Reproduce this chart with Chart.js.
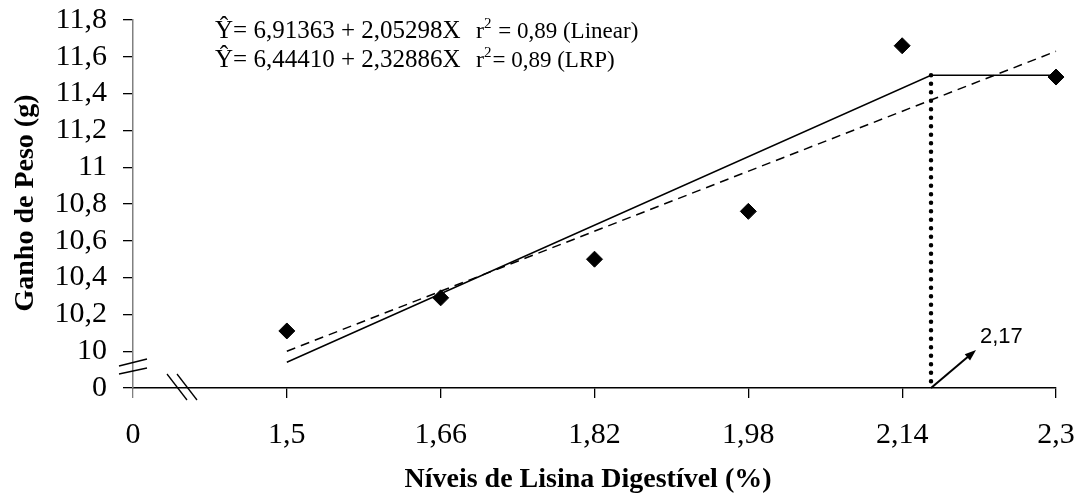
<!DOCTYPE html>
<html>
<head>
<meta charset="utf-8">
<script src="https://cdn.jsdelivr.net/npm/chart.js@4.4.1/dist/chart.umd.min.js"></script>
<style>
  html, body { margin: 0; padding: 0; background: #fff; }
  #wrap { width: 1078px; height: 493px; }
</style>
</head>
<body>
<div id="wrap"><canvas id="grafico-lisina"></canvas></div>
<script>
// observed points
const niveis = [1.5, 1.66, 1.82, 1.98, 2.14, 2.3];
const ganhoPeso = [10.11, 10.29, 10.5, 10.76, 11.66, 11.49];

// fitted lines (ends)
const linearX = [1.5, 2.3];
const linearY = [10.0, 11.63];
const lrpX = [1.5, 2.17, 2.3];
const lrpY = [9.94, 11.5, 11.5];
const platoX = 2.17;
const platoY = 11.5;

// axes: the "0" ticks sit one step past the break
const xTicks = [1.34, 1.5, 1.66, 1.82, 1.98, 2.14, 2.3];
const xTickLabels = ["0", "1,5", "1,66", "1,82", "1,98", "2,14", "2,3"];
const yTicks = [9.8, 10, 10.2, 10.4, 10.6, 10.8, 11, 11.2, 11.4, 11.6, 11.8];
const yTickLabels = ["0", "10", "10,2", "10,4", "10,6", "10,8", "11", "11,2", "11,4", "11,6", "11,8"];

const serif = "'Liberation Serif', 'Times New Roman', serif";

function pares(xs, ys) {
  return xs.map(function (x, i) { return { x: x, y: ys[i] }; });
}

function linha(ctx, x1, y1, x2, y2) {
  ctx.beginPath();
  ctx.moveTo(x1, y1);
  ctx.lineTo(x2, y2);
  ctx.stroke();
}

const extras = {
  id: "extras",
  afterDraw(chart) {
    const ctx = chart.ctx;
    const xs = chart.scales.x;
    const area = chart.chartArea;
    ctx.save();
    ctx.fillStyle = "#000";
    ctx.strokeStyle = "#000";

    // axis titles
    ctx.font = "bold 28px " + serif;
    ctx.textAlign = "center";
    ctx.textBaseline = "alphabetic";
    ctx.fillText("Níveis de Lisina Digestível (%)", 588, 487);
    ctx.save();
    ctx.translate(33, 203);
    ctx.rotate(-Math.PI / 2);
    ctx.fillText("Ganho de Peso (g)", 0, 0);
    ctx.restore();

    // equations
    ctx.textAlign = "left";
    const eqs = [
      ["Ŷ= 6,91363 + 2,05298X", " = 0,89 (Linear)", 38],
      ["Ŷ= 6,44410 + 2,32886X", "= 0,89 (LRP)", 67],
    ];
    eqs.forEach(function (e) {
      ctx.font = "25px " + serif;
      ctx.fillText(e[0], 215, e[2]);
      ctx.font = "24px " + serif;
      ctx.fillText("r", 476, e[2]);
      const wr = ctx.measureText("r").width;
      ctx.font = "15px " + serif;
      ctx.fillText("2", 476 + wr, e[2] - 10);
      const w2 = ctx.measureText("2").width;
      ctx.font = "23px " + serif;
      ctx.fillText(e[1], 476 + wr + w2 + 1, e[2]);
    });

    // axis breaks
    ctx.lineWidth = 1.3;
    linha(ctx, area.left - 14, 366, area.left + 14, 359);
    linha(ctx, area.left - 14, 374, area.left + 14, 368);
    linha(ctx, 167, 374, 187, 400);
    linha(ctx, 177, 374, 197, 400);

    // arrow to the break point label
    const ax = xs.getPixelForValue(platoX);
    const ay = area.bottom;
    const bx = ax + 45, by = ay - 38;
    ctx.lineWidth = 2;
    linha(ctx, ax, ay, bx - 6, by + 5);
    const ang = Math.atan2(by - ay, bx - ax);
    ctx.beginPath();
    ctx.moveTo(bx, by);
    ctx.lineTo(bx - 12 * Math.cos(ang - 0.35), by - 12 * Math.sin(ang - 0.35));
    ctx.lineTo(bx - 12 * Math.cos(ang + 0.35), by - 12 * Math.sin(ang + 0.35));
    ctx.closePath();
    ctx.fill();
    ctx.font = "22px 'Liberation Sans', Arial, sans-serif";
    ctx.fillText("2,17", 980, 343);
    ctx.restore();
  },
};

const ctx = document.getElementById("grafico-lisina").getContext("2d");
new Chart(ctx, {
  type: "scatter",
  data: {
    datasets: [
      {
        label: "observado",
        data: pares(niveis, ganhoPeso),
        pointStyle: "rectRot",
        pointRadius: 8,
        pointBackgroundColor: "#000",
        pointBorderColor: "#000",
        showLine: false,
        clip: false,
      },
      {
        label: "LRP",
        data: pares(lrpX, lrpY),
        showLine: true,
        borderColor: "#000",
        borderWidth: 1.5,
        pointRadius: 0,
        tension: 0,
        clip: false,
      },
      {
        label: "Linear",
        data: pares(linearX, linearY),
        showLine: true,
        borderColor: "#000",
        borderWidth: 1.5,
        borderDash: [9, 6],
        pointRadius: 0,
        tension: 0,
        clip: false,
      },
      {
        label: "plato",
        data: pares([platoX, platoX], [platoY, yTicks[0]]),
        showLine: true,
        borderColor: "#000",
        borderWidth: 4.5,
        borderDash: [0, 8.5],
        borderCapStyle: "round",
        pointRadius: 0,
        clip: false,
      },
    ],
  },
  options: {
    responsive: true,
    maintainAspectRatio: false,
    animation: false,
    layout: { padding: { left: 0, right: 22, top: 20, bottom: 0 } },
    plugins: {
      legend: { display: false },
      tooltip: { enabled: false },
    },
    scales: {
      x: {
        type: "linear",
        min: xTicks[0],
        max: xTicks[xTicks.length - 1],
        afterFit(scale) {
          scale.height = 105;
          scale.paddingLeft = 0;
          scale.paddingRight = 0;
        },
        afterBuildTicks(scale) {
          scale.ticks = xTicks.map(function (v) { return { value: v }; });
        },
        grid: {
          display: true,
          drawOnChartArea: false,
          drawTicks: true,
          tickLength: 10,
          color: function (c) { return c.index === 0 ? "#808080" : "#000"; },
          lineWidth: 1.3,
        },
        border: { display: true, color: "#000", width: 1.5 },
        ticks: {
          color: "#000",
          padding: 19,
          maxRotation: 0,
          autoSkip: false,
          font: { family: serif, size: 30 },
          callback: function (v, i) { return xTickLabels[i]; },
        },
      },
      y: {
        type: "linear",
        min: yTicks[0],
        max: yTicks[yTicks.length - 1],
        afterFit(scale) {
          scale.width = 133;
          scale.paddingTop = 0;
          scale.paddingBottom = 0;
        },
        afterBuildTicks(scale) {
          scale.ticks = yTicks.map(function (v) { return { value: v }; });
        },
        grid: {
          display: true,
          drawOnChartArea: false,
          drawTicks: true,
          tickLength: 10,
          color: "#000",
          lineWidth: 1.3,
        },
        border: { display: true, color: "#808080", width: 1.5 },
        ticks: {
          color: "#000",
          padding: 16,
          autoSkip: false,
          font: { family: serif, size: 30 },
          callback: function (v, i) { return yTickLabels[i]; },
        },
      },
    },
  },
  plugins: [extras],
});
</script>
</body>
</html>
